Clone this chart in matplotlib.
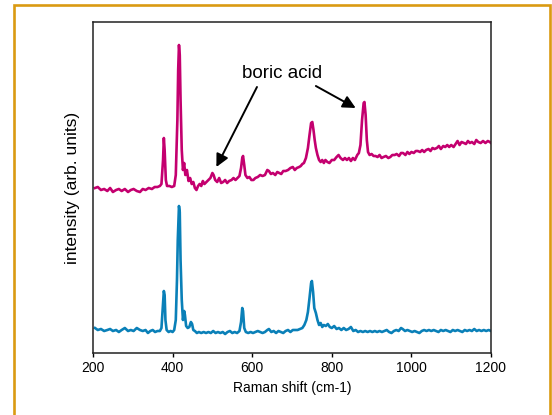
import numpy as np
import matplotlib
matplotlib.use("Agg")
import matplotlib.pyplot as plt
from matplotlib.patches import Rectangle

plt.rcParams["font.family"] = ["Liberation Sans", "DejaVu Sans"]

# Raman spectra (shift in cm-1, intensity in arb. units)
pink_shift = [205, 212, 220, 228, 236, 243, 250, 258, 265, 272, 280, 288, 295, 302, 310, 318,
              325, 332, 340, 348, 355, 362, 368, 372, 376, 378, 380, 383, 386, 392, 398, 404,
              408, 412, 414, 416, 418, 420, 423, 426, 429, 432, 436, 440, 444, 448, 452, 456,
              460, 464, 468, 472, 476, 480, 485, 490, 495, 500, 503, 507, 512, 517, 522, 527,
              532, 537, 542, 548, 553, 558, 563, 568, 572, 575, 577, 580, 583, 588, 593, 598,
              603, 608, 614, 620, 626, 632, 638, 642, 647, 652, 658, 663, 668, 673, 678, 684,
              690, 696, 702, 707, 712, 718, 722, 726, 730, 735, 740, 744, 748, 751, 754, 757,
              760, 764, 768, 772, 776, 780, 784, 789, 794, 800, 806, 812, 817, 822, 828, 833,
              838, 843, 848, 853, 858, 864, 868, 872, 876, 880, 882, 885, 888, 891, 895, 900,
              905, 910, 915, 920, 925, 930, 936, 942, 947, 952, 958, 963, 969, 974, 979, 985,
              990, 995, 1000, 1006, 1011, 1016, 1022, 1027, 1032, 1037, 1043, 1048, 1053, 1058,
              1064, 1069, 1074, 1080, 1085, 1090, 1095, 1100, 1106, 1111, 1116, 1121, 1126, 1132,
              1137, 1142, 1147, 1152, 1158, 1163, 1168, 1174, 1180, 1186, 1192, 1197, 1200]
pink_int = [165, 166, 163, 164, 162, 165, 161, 163, 164, 162, 164, 161, 163, 164, 162, 161,
            164, 163, 165, 164, 166, 166, 167, 169, 193, 215, 203, 173, 167, 167, 166, 167,
            178, 233, 283, 308, 298, 253, 203, 183, 190, 178, 183, 172, 175, 169, 171, 165,
            163, 167, 169, 167, 172, 169, 171, 173, 175, 180, 178, 173, 171, 175, 170, 171,
            173, 170, 172, 173, 175, 173, 175, 177, 185, 195, 197, 188, 178, 175, 176, 173,
            173, 175, 176, 178, 177, 178, 183, 182, 179, 180, 178, 181, 180, 179, 182, 182,
            183, 185, 186, 183, 185, 186, 187, 189, 190, 195, 205, 218, 230, 231, 223, 213,
            205, 198, 193, 191, 193, 190, 193, 191, 190, 193, 193, 196, 198, 195, 193, 195,
            193, 195, 192, 195, 193, 198, 200, 208, 233, 250, 251, 238, 213, 201, 198, 199,
            197, 197, 196, 198, 195, 196, 197, 195, 196, 198, 198, 199, 197, 200, 200, 198,
            201, 199, 201, 200, 202, 202, 201, 203, 201, 203, 204, 202, 205, 204,
            205, 207, 204, 207, 206, 208, 206, 208, 206, 209, 212, 208, 211, 210,
            209, 212, 210, 211, 209, 213, 211, 210, 212, 210, 212, 211, 210]

blue_shift = [205, 212, 220, 228, 236, 243, 250, 258, 265, 272, 280, 288, 295, 302, 310, 318,
              325, 332, 338, 344, 350, 356, 362, 368, 372, 375, 378, 380, 382, 385, 390, 395,
              400, 404, 408, 411, 413, 416, 418, 420, 423, 426, 429, 431, 434, 438, 442, 446,
              449, 452, 456, 461, 466, 472, 478, 484, 490, 496, 502, 508, 514, 520, 526, 532,
              538, 544, 550, 556, 562, 568, 572, 575, 577, 580, 584, 590, 596, 602, 608, 614,
              620, 626, 632, 638, 642, 648, 654, 660, 666, 672, 678, 684, 690, 696, 702, 708,
              714, 720, 726, 731, 736, 740, 744, 748, 750, 753, 756, 760, 764, 768, 772, 776,
              780, 785, 790, 795, 800, 806, 812, 818, 824, 830, 836, 842, 848, 854, 860, 866,
              872, 878, 884, 890, 896, 902, 908, 914, 920, 926, 932, 938, 944, 950, 956, 962,
              968, 974, 978, 984, 990, 996, 1002, 1008, 1014, 1020, 1026, 1032, 1038, 1044,
              1050, 1056, 1062, 1068, 1074, 1080, 1086, 1092, 1098, 1104, 1110, 1116, 1122,
              1128, 1134, 1140, 1146, 1152, 1158, 1164, 1170, 1176, 1182, 1188, 1194, 1200]
blue_int = [25, 23, 24, 22, 23, 24, 22, 23, 21, 23, 25, 22, 23, 22, 25, 23,
            22, 23, 20, 22, 23, 21, 22, 22, 25, 43, 62, 58, 33, 23, 21, 22,
            21, 23, 33, 73, 113, 147, 141, 93, 53, 33, 42, 38, 27, 25, 26, 31,
            29, 23, 22, 20, 21, 20, 21, 20, 21, 20, 22, 20, 21, 20, 21, 19,
            21, 22, 20, 21, 20, 22, 31, 45, 42, 25, 21, 20, 21, 20, 21, 22,
            21, 20, 21, 23, 24, 21, 22, 20, 22, 21, 20, 22, 23, 21, 23, 23,
            23, 24, 25, 28, 33, 41, 55, 70, 72, 61, 45, 40, 33, 28, 30, 26,
            28, 27, 29, 26, 25, 27, 24, 25, 23, 25, 23, 24, 26, 22, 23, 21,
            22, 21, 22, 21, 22, 21, 22, 21, 22, 21, 22, 23, 21, 20, 22, 23,
            22, 25, 24, 22, 23, 22, 21, 22, 21, 20, 22, 23, 22, 23,
            22, 23, 22, 21, 23, 22, 23, 22, 21, 23, 22, 23, 22,
            21, 23, 22, 23, 22, 24, 22, 23, 22, 23, 22, 23, 22]

# boric acid bands pointed at by the arrows
label_pos = (675, 280)
arrow_tails = [(612, 266), (760, 267)]
arrow_tips = [(510, 186), (860, 245)]

fig = plt.figure(figsize=(5.52, 4.15), dpi=100)
ax = fig.add_axes([93 / 552, 62 / 415, 398 / 552, 331 / 415])

ax.plot(pink_shift, pink_int, color="#C4006F", lw=1.9)
ax.plot(blue_shift, blue_int, color="#0A80B8", lw=1.9)

ax.set_xlim(200, 1200)
ax.set_ylim(0, 331)
ax.set_xticks([200, 400, 600, 800, 1000, 1200])
ax.set_yticks([])
ax.tick_params(axis="x", direction="out", length=3, width=1, pad=3, labelsize=10)
for s in ax.spines.values():
    s.set_linewidth(1.1)
    s.set_color("#222222")

ax.set_xlabel("Raman shift (cm-1)", fontsize=10, labelpad=4)
ax.set_ylabel("intensity (arb. units)", fontsize=12.5, labelpad=9)

ax.text(*label_pos, "boric acid", fontsize=13.5, ha="center", va="center")
for tail, tip in zip(arrow_tails, arrow_tips):
    ax.annotate("", xy=tip, xytext=tail,
                arrowprops=dict(arrowstyle="-|>", mutation_scale=19, lw=1.4,
                                color="black", shrinkA=0, shrinkB=0))

# orange frame around the figure
fig.patches.append(Rectangle((14 / 552, -0.1), 536 / 552, 1.1 - 5.5 / 415,
                             transform=fig.transFigure, fill=False,
                             edgecolor="#DA9A12", lw=1.9))

fig.savefig("out.png", dpi=100)
